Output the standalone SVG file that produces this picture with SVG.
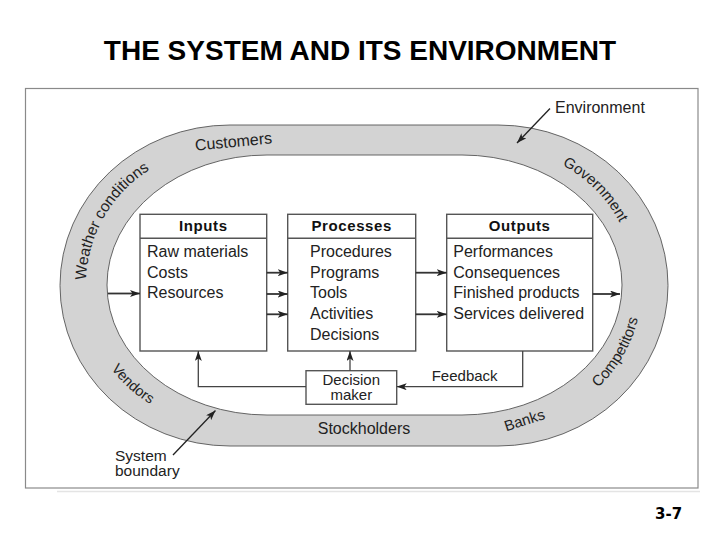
<svg xmlns="http://www.w3.org/2000/svg" xmlns:xlink="http://www.w3.org/1999/xlink" width="720" height="540" viewBox="0 0 720 540">
<style>
.t{font-family:"Liberation Sans",Arial,sans-serif;font-size:16px;fill:#222}
.h{font-family:"Liberation Sans",Arial,sans-serif;font-size:15px;font-weight:bold;fill:#111;letter-spacing:0.6px}
.box{fill:#fff;stroke:#555;stroke-width:1.4}
.ln{fill:none;stroke:#333;stroke-width:1.8}
.fb{fill:none;stroke:#444;stroke-width:1.3}
.ptr{fill:none;stroke:#222;stroke-width:1.3}
</style>
<defs>
<marker id="ah" viewBox="0 0 10 7" refX="10" refY="3.5" markerWidth="10" markerHeight="7" markerUnits="userSpaceOnUse" orient="auto">
<path d="M0,0 L10,3.5 L0,7 L2.5,3.5 z" fill="#222"/>
</marker>
<path id="pWeather" d="M86.5,296.9 A136,136 0 0 1 164.5,161.7"/>
<path id="pGov" d="M523.4,152 A135,135 0 0 1 632.9,261.6"/>
<path id="pComp" d="M560,413.7 A142,142 0 0 0 641.5,272.6"/>
<path id="pVend" d="M91.4,332.5 A139,139 0 0 0 188.4,419.9"/>
</defs>
<rect width="720" height="540" fill="#fff"/>
<text x="360" y="60" text-anchor="middle" style="font-family:'Liberation Sans',Arial,sans-serif;font-size:28px;font-weight:bold" fill="#000">THE SYSTEM AND ITS ENVIRONMENT</text>
<line x1="57" y1="491.5" x2="700" y2="491.5" stroke="#e4e4e4" stroke-width="1.5"/>
<rect x="25.5" y="88.5" width="672.5" height="399.5" fill="#fff" stroke="#8a8a8a" stroke-width="1.2"/>

<g id="environment-ring">
<path d="M230,125 H498 A170,160.5 0 0 1 668,285.5 A170,160.5 0 0 1 498,446 H230 A170,160.5 0 0 1 60,285.5 A170,160.5 0 0 1 230,125 Z M267,155 H462 A160,130 0 0 1 622,285 A160,130 0 0 1 462,415 H267 A160,130 0 0 1 107,285 A160,130 0 0 1 267,155 Z" fill="#d3d3d3" fill-rule="evenodd" stroke="#555" stroke-width="0.9"/>
<text class="t" x="234" y="147" text-anchor="middle" transform="rotate(-5.5 234 147)">Customers</text>
<text class="t" style="font-size:15.5px"><textPath xlink:href="#pWeather" href="#pWeather" startOffset="50%" text-anchor="middle">Weather conditions</textPath></text>
<text class="t" style="font-size:15px"><textPath xlink:href="#pGov" href="#pGov" startOffset="50%" text-anchor="middle">Government</textPath></text>
<text class="t" style="font-size:15px"><textPath xlink:href="#pComp" href="#pComp" startOffset="50%" text-anchor="middle">Competitors</textPath></text>
<text class="t" style="font-size:14.5px"><textPath xlink:href="#pVend" href="#pVend" startOffset="50%" text-anchor="middle">Vendors</textPath></text>
<text class="t" x="364" y="434" text-anchor="middle">Stockholders</text>
<text class="t" style="font-size:15px" x="526" y="425" text-anchor="middle" transform="rotate(-18 526 425)">Banks</text>
</g>

<g id="inputs">
<rect class="box" x="140" y="214.3" width="126.7" height="136.7"/>
<line x1="140" y1="238.3" x2="266.7" y2="238.3" stroke="#555" stroke-width="1.4"/>
<text class="h" x="203.3" y="231" text-anchor="middle">Inputs</text>
<text class="t" x="147" y="257">Raw materials</text>
<text class="t" x="147" y="277.7">Costs</text>
<text class="t" x="147" y="298.3">Resources</text>
</g>

<g id="processes">
<rect class="box" x="287.7" y="214.3" width="128" height="136.7"/>
<line x1="287.7" y1="238.3" x2="415.7" y2="238.3" stroke="#555" stroke-width="1.4"/>
<text class="h" x="351.7" y="231" text-anchor="middle">Processes</text>
<text class="t" x="310" y="257">Procedures</text>
<text class="t" x="310" y="277.7">Programs</text>
<text class="t" x="310" y="298.3">Tools</text>
<text class="t" x="310" y="319">Activities</text>
<text class="t" x="310" y="339.7">Decisions</text>
</g>

<g id="outputs">
<rect class="box" x="446.7" y="214.3" width="146" height="136.7"/>
<line x1="446.7" y1="238.3" x2="592.7" y2="238.3" stroke="#555" stroke-width="1.4"/>
<text class="h" x="519.7" y="231" text-anchor="middle">Outputs</text>
<text class="t" x="453.3" y="257">Performances</text>
<text class="t" x="453.3" y="277.7">Consequences</text>
<text class="t" x="453.3" y="298.3">Finished products</text>
<text class="t" x="453.3" y="319">Services delivered</text>
</g>

<g id="decision-maker">
<rect class="box" x="306" y="370.7" width="90.7" height="33.6"/>
<text class="t" style="font-size:15px" x="351.3" y="385.3" text-anchor="middle">Decision</text>
<text class="t" style="font-size:15px" x="351.3" y="400" text-anchor="middle">maker</text>
</g>

<g id="labels">
<text class="t" x="555" y="113">Environment</text>
<text class="t" style="font-size:15.5px" x="115" y="460.5">System</text>
<text class="t" style="font-size:15.5px" x="115" y="475.5">boundary</text>
<text class="t" style="font-size:15px" x="431.7" y="381">Feedback</text>
<text x="655" y="519" style="font-family:'DejaVu Sans',Verdana,sans-serif;font-size:15px;font-weight:bold" fill="#000">3-7</text>
</g>

<g id="connectors">
<path class="ln" d="M108,293.5 H140" marker-end="url(#ah)"/>
<path class="ln" d="M266.7,272.7 H287.7" marker-end="url(#ah)"/>
<path class="ln" d="M266.7,294 H287.7" marker-end="url(#ah)"/>
<path class="ln" d="M266.7,314.3 H287.7" marker-end="url(#ah)"/>
<path class="ln" d="M415.7,272.7 H446.7" marker-end="url(#ah)"/>
<path class="ln" d="M415.7,314.3 H446.7" marker-end="url(#ah)"/>
<path class="ln" d="M592.7,294 H620" marker-end="url(#ah)"/>
<path class="fb" d="M522.7,351 V386.7 H396.7" marker-end="url(#ah)"/>
<path class="fb" d="M350,370.7 V351" marker-end="url(#ah)"/>
<path class="fb" d="M306,386.7 H198.3 V351" marker-end="url(#ah)"/>
<path class="ptr" d="M550,108.5 L517,143" marker-end="url(#ah)"/>
<path class="ptr" d="M173,455 L215.5,410.5" marker-end="url(#ah)"/>
</g>
</svg>
